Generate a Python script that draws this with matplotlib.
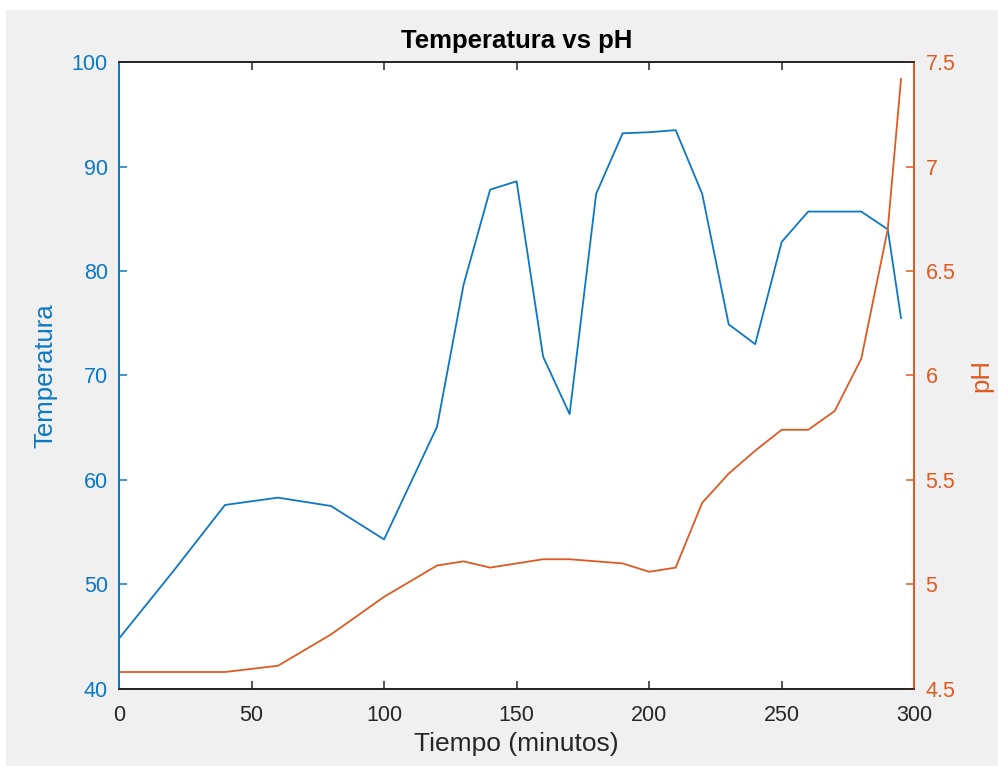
import matplotlib
matplotlib.use("Agg")
import matplotlib.pyplot as plt
from matplotlib.patches import Rectangle

# Data
tiempo = [0, 20, 40, 60, 80, 100, 120, 130, 140, 150, 160, 170, 180, 190, 200,
          210, 220, 230, 240, 250, 260, 270, 280, 290, 295]
temperatura = [44.8, 51.1, 57.6, 58.3, 57.5, 54.3, 65.1, 78.7, 87.8, 88.6, 71.8,
               66.3, 87.4, 93.2, 93.3, 93.5, 87.4, 74.9, 73.0, 82.8, 85.7, 85.7,
               85.7, 84.0, 75.5]
ph = [4.58, 4.58, 4.58, 4.61, 4.76, 4.94, 5.09, 5.11, 5.08, 5.10, 5.12, 5.12,
      5.11, 5.10, 5.06, 5.08, 5.39, 5.53, 5.64, 5.74, 5.74, 5.83, 6.08, 6.70, 7.42]

xticks = [0, 50, 100, 150, 200, 250, 300]
yticks_left = [40, 50, 60, 70, 80, 90, 100]
yticks_right = [4.5, 5, 5.5, 6, 6.5, 7, 7.5]
yticklabels_right = ["4.5", "5", "5.5", "6", "6.5", "7", "7.5"]

BLUE = "#0C78C4"
ORANGE = "#DD5B22"
DARK = "#262626"

plt.rcParams['font.family'] = ['Liberation Sans', 'DejaVu Sans']

fig = plt.figure(figsize=(9.98, 7.66), dpi=100, facecolor="white")
# gray figure background (screenshot look) with thin white strips top/left
fig.patches.append(Rectangle((6 / 998, 0), 1 - 6 / 998, 1 - 10 / 766,
                             transform=fig.transFigure,
                             facecolor="#F0F0F0", edgecolor="none", zorder=-10))

ax = fig.add_axes([0.1192, 0.1009, 0.9161 - 0.1192, 0.9187 - 0.1009])
ax.set_facecolor("white")
ax2 = ax.twinx()

ax.plot(tiempo, temperatura, color=BLUE, lw=1.3)
ax2.plot(tiempo, ph, color=ORANGE, lw=1.3)

ax.set_xlim(0, 300)
ax.set_ylim(40, 100)
ax2.set_ylim(4.5, 7.5)

ax.set_xticks(xticks)
ax.set_yticks(yticks_left)
ax2.set_yticks(yticks_right)
ax2.set_yticklabels(yticklabels_right)

for a in (ax, ax2):
    a.spines['top'].set_color(DARK)
    a.spines['bottom'].set_color(DARK)
    a.spines['left'].set_color(BLUE)
    a.spines['right'].set_color(ORANGE)
    for s in a.spines.values():
        s.set_linewidth(1.3)

ax.tick_params(axis='x', direction='in', top=True, length=6, width=1.1,
               colors=DARK, labelsize=15.5, pad=12)
ax.tick_params(axis='y', direction='in', length=6, width=1.1, colors=BLUE,
               labelsize=15.5, pad=8)
ax2.tick_params(axis='y', direction='in', length=6, width=1.1, colors=ORANGE,
                labelsize=15.5, pad=8)

ax.set_xlabel("Tiempo (minutos)", fontsize=19, color=DARK, labelpad=4)
ax.set_ylabel("Temperatura", fontsize=18.5, color=BLUE, labelpad=10)
ax2.set_ylabel("pH", fontsize=18.5, color=ORANGE, labelpad=10)
ax.set_title("Temperatura vs pH", fontsize=18.5, fontweight="bold", color="black", pad=10)

fig.savefig("out.png", dpi=100, facecolor=fig.get_facecolor())
